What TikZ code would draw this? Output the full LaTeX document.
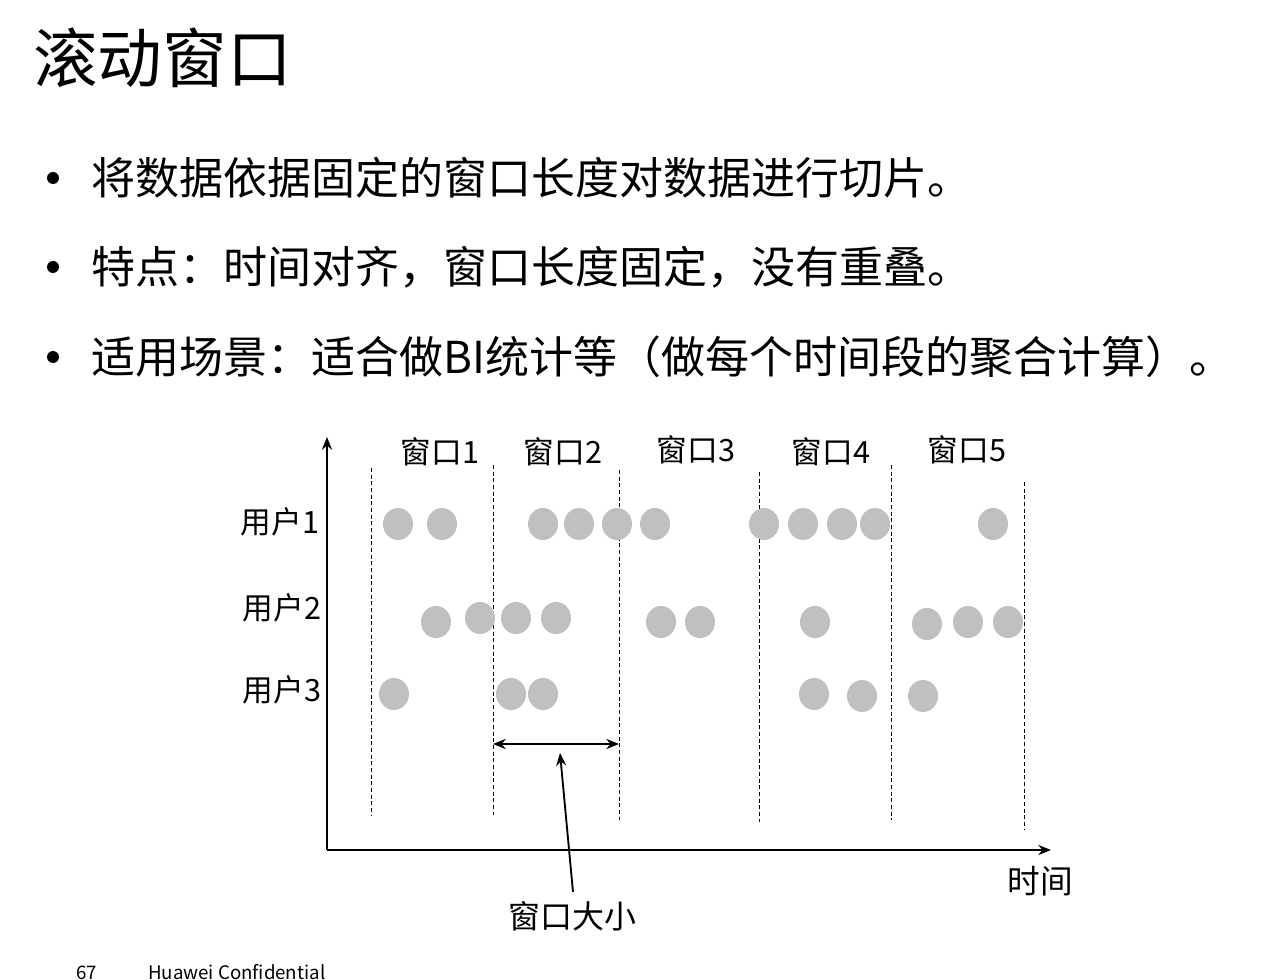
\documentclass[tikz,border=0pt]{standalone}
\usepackage{fontspec}
\setmainfont{Noto Sans CJK SC}
\usepackage{tikz}

\tikzset{
  pt/.style={ellipse,fill=dotgray,minimum width=30\unitpx,minimum height=32\unitpx,inner sep=0pt},
  lab/.style={inner sep=0pt,font=\fontsize{23}{26}\selectfont},
  bul/.style={anchor=west,inner sep=0pt,font=\fontsize{33}{38}\selectfont},
  cut/.style={dashed,dash pattern=on 3pt off 2pt,line width=0.5pt},
}
\newlength{\unitpx}
\setlength{\unitpx}{0.75pt}
\definecolor{dotgray}{HTML}{C0C0C0}
\usetikzlibrary{shapes.geometric,arrows.meta}

\begin{document}
\begin{tikzpicture}[>={Stealth[length=9.5pt,width=7.5pt]},x=0.75pt,y=-0.75pt]
\useasboundingbox (0,0) rectangle (1288,980);

\node[anchor=west,inner sep=0pt,font=\fontsize{48.5}{54}\selectfont] (title) at (33,58) {滚动窗口};

\fill (53,178) circle (6);
\fill (53,267) circle (6);
\fill (53,357) circle (6);
\node[bul] (b1) at (91,178) {将数据依据固定的窗口长度对数据进行切片。};
\node[bul] (b2) at (91,267) {特点：时间对齐，窗口长度固定，没有重叠。};
\node[bul] (b3) at (91,357) {适用场景：适合做BI统计等（做每个时间段的聚合计算）。};

% axes
\coordinate (O) at (327,850);
\coordinate (Ytop) at (327,437);
\coordinate (Xend) at (1051,850);
\draw[->,line width=2pt] (O) -- (Ytop);
\draw[->,line width=2pt] (O) -- (Xend);

% window borders
\foreach \x/\a/\b in {371/468/815,493/465/815,619/470/820,759/472/822,891/465/820,1024/482/830}
  \draw[cut] (\x,\a) -- (\x,\b);

\node[lab] (w1) at (440,452) {窗口1};
\node[lab] (w2) at (563,452) {窗口2};
\node[lab] (w3) at (696,450) {窗口3};
\node[lab] (w4) at (831,452) {窗口4};
\node[lab] (w5) at (967,450) {窗口5};

\node[lab] (u1) at (280,522) {用户1};
\node[lab] (u2) at (282,608) {用户2};
\node[lab] (u3) at (282,690) {用户3};

% events
\foreach \x in {398,442,543,579,617,655,764,803,842,875,993}
  \node[pt] at (\x,524) {};
\foreach \x/\y in {436/622,480/618,516/618,556/618,661/622,700/622,815/622,927/624,968/622,1008/622}
  \node[pt] at (\x,\y) {};
\foreach \x/\y in {394/694,511/694,543/694,814/694,862/696,923/696}
  \node[pt] at (\x,\y) {};

% window size
\coordinate (L) at (493,744);
\coordinate (R) at (619,744);
\draw[<->,line width=1.6pt] (L) -- (R);
\node[inner sep=0pt,font=\fontsize{24}{28}\selectfont] (size) at (572,916) {窗口大小};
\coordinate (tip) at (560,753);
\draw[->,line width=1.4pt] (573,892) -- (tip);

\node[inner sep=0pt,font=\fontsize{24.5}{28}\selectfont] (time) at (1040,881) {时间};

\node[anchor=base west,inner sep=0pt,font=\fontsize{14}{16}\selectfont] (pg) at (76,979) {67};
\node[anchor=base west,inner sep=0pt,font=\fontsize{14}{16}\selectfont] (conf) at (148,979) {Huawei Confidential};
\end{tikzpicture}
\end{document}
